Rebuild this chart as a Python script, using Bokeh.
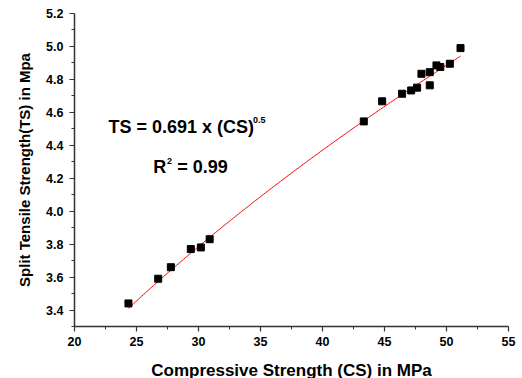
import numpy as np
from bokeh.plotting import figure
from bokeh.models import Range1d, FixedTicker, Label, CustomJSTickFormatter
from bokeh.embed import file_html
from bokeh.resources import INLINE

# Data
cs = [24.35, 26.75, 27.77, 29.38, 30.19, 30.9, 43.33, 44.81, 46.42, 47.15,
      47.63, 47.98, 48.65, 48.65, 49.19, 49.5, 50.27, 51.13]
ts = [3.44, 3.59, 3.66, 3.77, 3.78, 3.83, 4.545, 4.667, 4.713, 4.733,
      4.75, 4.834, 4.764, 4.844, 4.885, 4.875, 4.895, 4.99]
fit_coef = 0.691
fit_exp = 0.5
x_ticks = [20, 25, 30, 35, 40, 45, 50, 55]
x_minor = [22.5, 27.5, 32.5, 37.5, 42.5, 47.5, 52.5]
y_ticks = [3.4, 3.6, 3.8, 4.0, 4.2, 4.4, 4.6, 4.8, 5.0, 5.2]
y_minor = [3.3, 3.5, 3.7, 3.9, 4.1, 4.3, 4.5, 4.7, 4.9, 5.1]

FONT = "Liberation Sans"

p = figure(width=520, height=376, frame_width=434, frame_height=313,
           x_range=Range1d(20, 55), y_range=Range1d(3.3, 5.2),
           output_backend="svg", toolbar_location=None,
           min_border_left=74, min_border_top=13, min_border_right=12,
           min_border_bottom=50)
p.outline_line_color = None
p.grid.visible = False
p.background_fill_color = "white"

xs = np.linspace(min(cs), max(cs), 200)
p.line(xs, fit_coef * xs ** fit_exp, line_color="red", line_width=1)
p.scatter(cs, ts, marker="square", size=7, fill_color="black", line_color="black")

for ax in (p.xaxis[0], p.yaxis[0]):
    ax.axis_line_color = "#333333"
    ax.axis_line_width = 1.5
    ax.major_tick_line_color = "#333333"
    ax.minor_tick_line_color = "#333333"
    ax.major_tick_line_width = 1.2
    ax.minor_tick_line_width = 1
    ax.major_tick_out = 5
    ax.major_tick_in = 0
    ax.minor_tick_out = 3
    ax.minor_tick_in = 0
    ax.major_label_text_font = FONT
    ax.major_label_text_font_style = "bold"
    ax.major_label_text_font_size = "12.5px"
    ax.major_label_text_color = "black"
    ax.axis_label_text_font = FONT
    ax.axis_label_text_font_style = "bold"
    ax.axis_label_text_color = "black"

p.xaxis.ticker = FixedTicker(ticks=x_ticks, minor_ticks=x_minor)
p.yaxis.ticker = FixedTicker(ticks=y_ticks, minor_ticks=y_minor)
p.yaxis.formatter = CustomJSTickFormatter(code="return tick.toFixed(1);")

p.xaxis.axis_label = "Compressive Strength (CS) in MPa"
p.xaxis.axis_label_text_font_size = "17px"
p.xaxis.axis_label_standoff = 12
p.xaxis.major_label_standoff = 5
p.yaxis.axis_label = "Split Tensile Strength(TS) in Mpa"
p.yaxis.axis_label_text_font_size = "15px"
p.yaxis.axis_label_standoff = 10
p.yaxis.major_label_standoff = 6

def lab(x, y, text, size):
    p.add_layout(Label(x=x, y=y, text=text, text_font=FONT, text_font_style="bold",
                       text_font_size=size, text_color="black",
                       text_baseline="alphabetic", text_align="left"))

lab(22.74, 4.512, "TS = 0.691 x (CS)", "18px")
lab(34.4, 4.556, "0.5", "9px")
lab(26.35, 4.269, "R", "18px")
lab(27.45, 4.305, "2", "9px")
lab(28.28, 4.269, "= 0.99", "18px")

open("out.html", "w").write(file_html(p, INLINE))
